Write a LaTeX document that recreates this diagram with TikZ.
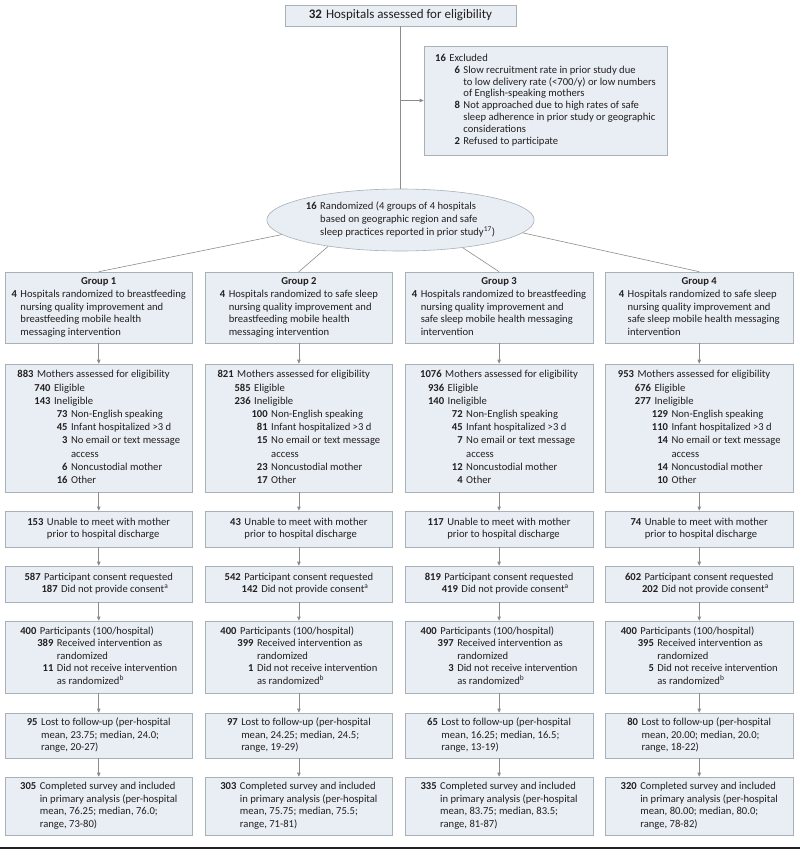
\documentclass[tikz,border=0pt]{standalone}
\usepackage{fontspec}
\setmainfont{Carlito}
\usetikzlibrary{arrows.meta,shapes.geometric}
\definecolor{boxfill}{HTML}{E8EEF3}
\definecolor{boxline}{HTML}{A8B0B8}
\definecolor{connc}{HTML}{8C8C8C}
\definecolor{ink}{HTML}{231F20}
\newlength\nw \newlength\gp \newlength\sta \newlength\stb
\setlength\gp{3.5pt}
\newcommand\setnw[1]{\settowidth\nw{\textbf{#1}}}
\newcommand\stdlev{\setnw{000}\setlength\sta{17pt}\setlength\stb{34pt}}
\newcommand\LvA[2]{\makebox[\nw][r]{\textbf{#1}}\hspace{\gp}#2}
\newcommand\LvB[2]{\hspace*{\sta}\makebox[\nw][r]{\textbf{#1}}\hspace{\gp}#2}
\newcommand\LvC[2]{\hspace*{\stb}\makebox[\nw][r]{\textbf{#1}}\hspace{\gp}#2}
\newcommand\CnA[1]{\hspace*{\dimexpr\nw+\gp\relax}#1}
\newcommand\CnB[1]{\hspace*{\dimexpr\sta+\nw+\gp\relax}#1}
\newcommand\CnC[1]{\hspace*{\dimexpr\stb+\nw+\gp\relax}#1}
\newcommand\GrpBox[5]{\setnw{4}\begin{tabular}{@{}l@{}}\multicolumn{1}{@{}c@{}}{\textbf{Group #1}}\\\LvA{4}{#2}\\\CnA{#3}\\\CnA{#4}\\\CnA{#5}\end{tabular}}
\newcommand\MothBox[8]{\begin{tabular}{@{}l@{}}\LvA{#1}{Mothers assessed for eligibility}\\\LvB{#2}{Eligible}\\\LvB{#3}{Ineligible}\\\LvC{#4}{Non-English speaking}\\\LvC{#5}{Infant hospitalized >3 d}\\\LvC{#6}{No email or text message}\\\CnC{access}\\\LvC{#7}{Noncustodial mother}\\\LvC{#8}{Other}\end{tabular}}
\newcommand\UnBox[1]{\setnw{#1}\begin{tabular}{@{}l@{}}\LvA{#1}{Unable to meet with mother}\\\CnA{prior to hospital discharge}\end{tabular}}
\newcommand\ConBox[2]{\stdlev\begin{tabular}{@{}l@{}}\LvA{#1}{Participant consent requested}\\\LvB{#2}{Did not provide consent\textsuperscript{a}}\end{tabular}}
\newcommand\ParBox[2]{\stdlev\begin{tabular}{@{}l@{}}\LvA{400}{Participants (100/hospital)}\\\LvB{#1}{Received intervention as}\\\CnB{randomized}\\\LvB{#2}{Did not receive intervention}\\\CnB{as randomized\textsuperscript{b}}\end{tabular}}
\newcommand\LostBox[4]{\setnw{#1}\begin{tabular}{@{}l@{}}\LvA{#1}{Lost to follow-up (per-hospital}\\\CnA{mean, #2; median, #3;}\\\CnA{range, #4)}\end{tabular}}
\newcommand\CompBox[4]{\setnw{#1}\begin{tabular}{@{}l@{}}\LvA{#1}{Completed survey and included}\\\CnA{in primary analysis (per-hospital}\\\CnA{mean, #2; median, #3;}\\\CnA{range, #4)}\end{tabular}}
\begin{document}
\begin{tikzpicture}[x=1pt,y=-1pt,
  box/.style={draw=boxline, fill=boxfill, line width=0.6pt, inner sep=0pt,
    minimum width=187.5pt, text=ink, font=\fontsize{10.6}{12.6}\selectfont},
  conn/.style={draw=connc, line width=0.6pt},
  arr/.style={conn, -{Triangle[length=4pt,width=3.5pt]}, connc}]
\useasboundingbox (0,0) rectangle (800,855);
\def\xa{98.75}\def\xb{298.9}\def\xc{499.1}\def\xd{699.25}
% top
\node[box, minimum width=231pt, minimum height=21pt, font=\fontsize{13}{15}\selectfont] (top) at (400.5,15.5)
  {\textbf{32}\hspace{4pt}Hospitals assessed for eligibility};
\node[box, minimum width=243pt, minimum height=109pt, font=\fontsize{10.6}{11.8}\selectfont] (excl) at (545.5,100.5)
  {\setnw{16}\setlength\sta{14pt}\begin{tabular}{@{}l@{}}
   \LvA{16}{Excluded}\\
   \LvB{6}{Slow recruitment rate in prior study due}\\
   \CnB{to low delivery rate (<700/y) or low numbers}\\
   \CnB{of English-speaking mothers}\\
   \LvB{8}{Not approached due to high rates of safe}\\
   \CnB{sleep adherence in prior study or geographic}\\
   \CnB{considerations}\\
   \LvB{2}{Refused to participate}\end{tabular}};
\node[box, ellipse, minimum width=245pt, minimum height=62pt] (ell) at (400.5,220)
  {\setnw{16}\begin{tabular}{@{}l@{}}
   \LvA{16}{Randomized (4 groups of 4 hospitals}\\
   \CnA{based on geographic region and safe}\\
   \CnA{sleep practices reported in prior study\textsuperscript{17})}\end{tabular}};
% groups
\node[box, minimum height=71pt] (g1) at (\xa,307.5) {\GrpBox{1}{Hospitals randomized to breastfeeding}{nursing quality improvement and}{breastfeeding mobile health}{messaging intervention}};
\node[box, minimum height=71pt] (g2) at (\xb,307.5) {\GrpBox{2}{Hospitals randomized to safe sleep}{nursing quality improvement and}{breastfeeding mobile health}{messaging intervention}};
\node[box, minimum height=71pt] (g3) at (\xc,307.5) {\GrpBox{3}{Hospitals randomized to breastfeeding}{nursing quality improvement and}{safe sleep mobile health messaging}{intervention}};
\node[box, minimum height=71pt] (g4) at (\xd,307.5) {\GrpBox{4}{Hospitals randomized to safe sleep}{nursing quality improvement and}{safe sleep mobile health messaging}{intervention}};
% mothers
\node[box, minimum height=128pt, font=\fontsize{10.6}{13.2}\selectfont] (m1) at (\xa,428) {\stdlev\MothBox{883}{740}{143}{73}{45}{3}{6}{16}};
\node[box, minimum height=128pt, font=\fontsize{10.6}{13.2}\selectfont] (m2) at (\xb,428) {\stdlev\MothBox{821}{585}{236}{100}{81}{15}{23}{17}};
\node[box, minimum height=128pt, font=\fontsize{10.6}{13.2}\selectfont] (m3) at (\xc,428) {\setnw{0000}\setlength\sta{2.5pt}\setlength\stb{21pt}\MothBox{1076}{936}{140}{72}{45}{7}{12}{4}};
\node[box, minimum height=128pt, font=\fontsize{10.6}{13.2}\selectfont] (m4) at (\xd,428) {\stdlev\MothBox{953}{676}{277}{129}{110}{14}{14}{10}};
% unable
\node[box, minimum height=36pt] (u1) at (\xa,529) {\UnBox{153}};
\node[box, minimum height=36pt] (u2) at (\xb,529) {\UnBox{43}};
\node[box, minimum height=36pt] (u3) at (\xc,529) {\UnBox{117}};
\node[box, minimum height=36pt] (u4) at (\xd,529) {\UnBox{74}};
% consent
\node[box, minimum height=36pt] (c1) at (\xa,584) {\ConBox{587}{187}};
\node[box, minimum height=36pt] (c2) at (\xb,584) {\ConBox{542}{142}};
\node[box, minimum height=36pt] (c3) at (\xc,584) {\ConBox{819}{419}};
\node[box, minimum height=36pt] (c4) at (\xd,584) {\ConBox{602}{202}};
% participants
\node[box, minimum height=72pt] (p1) at (\xa,657) {\ParBox{389}{11}};
\node[box, minimum height=72pt] (p2) at (\xb,657) {\ParBox{399}{1}};
\node[box, minimum height=72pt] (p3) at (\xc,657) {\ParBox{397}{3}};
\node[box, minimum height=72pt] (p4) at (\xd,657) {\ParBox{395}{5}};
% lost
\node[box, minimum height=45pt] (l1) at (\xa,735.5) {\LostBox{95}{23.75}{24.0}{20-27}};
\node[box, minimum height=45pt] (l2) at (\xb,735.5) {\LostBox{97}{24.25}{24.5}{19-29}};
\node[box, minimum height=45pt] (l3) at (\xc,735.5) {\LostBox{65}{16.25}{16.5}{13-19}};
\node[box, minimum height=45pt] (l4) at (\xd,735.5) {\LostBox{80}{20.00}{20.0}{18-22}};
% completed
\node[box, minimum height=58pt] (f1) at (\xa,806) {\CompBox{305}{76.25}{76.0}{73-80}};
\node[box, minimum height=58pt] (f2) at (\xb,806) {\CompBox{303}{75.75}{75.5}{71-81}};
\node[box, minimum height=58pt] (f3) at (\xc,806) {\CompBox{335}{83.75}{83.5}{81-87}};
\node[box, minimum height=58pt] (f4) at (\xd,806) {\CompBox{320}{80.00}{80.0}{78-82}};
% connectors
\draw[conn] (top) -- (ell);
\draw[arr] (top.south |- excl.west) -- (excl.west);
\draw[conn] (ell.187) -- (g1.north);
\draw[conn] (ell.200) -- (g2.north);
\draw[conn] (ell.336) -- (g3.north);
\draw[conn] (ell.354) -- (g4.north);
\foreach \i in {1,2,3,4}{
  \draw[arr] (g\i) -- (m\i);
  \draw[arr] (m\i) -- (u\i);
  \draw[arr] (u\i) -- (c\i);
  \draw[arr] (c\i) -- (p\i);
  \draw[arr] (p\i) -- (l\i);
  \draw[arr] (l\i) -- (f\i);
}
\draw[ink, line width=2pt] (0,848) -- (800,848);
\end{tikzpicture}
\end{document}
